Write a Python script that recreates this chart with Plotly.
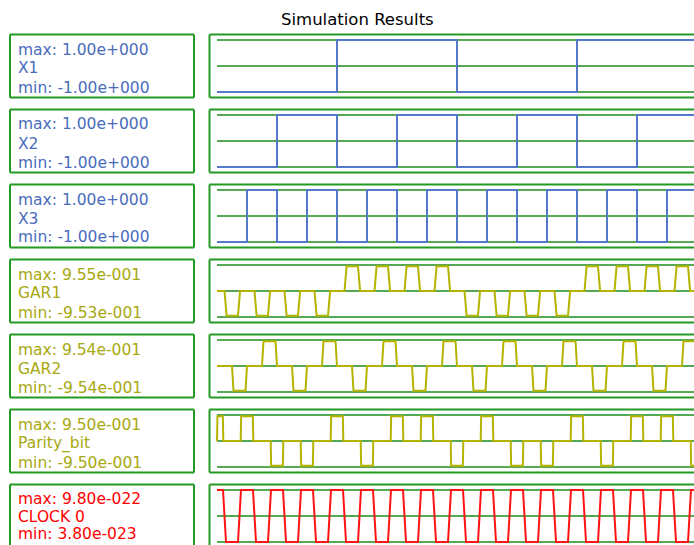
import plotly.graph_objects as go

W, H = 694, 545
TITLE = "Simulation Results"

# Signals shown, top to bottom
NAMES = ["X1", "X2", "X3", "GAR1", "GAR2", "Parity_bit", "CLOCK 0"]
MAX_LABELS = ["1.00e+000", "1.00e+000", "1.00e+000", "9.55e-001", "9.54e-001", "9.50e-001", "9.80e-022"]
MIN_LABELS = ["-1.00e+000", "-1.00e+000", "-1.00e+000", "-9.53e-001", "-9.54e-001", "-9.50e-001", "3.80e-023"]
MAX_VALUES = [1.0, 1.0, 1.0, 0.955, 0.954, 0.950, 9.80e-22]
MIN_VALUES = [-1.0, -1.0, -1.0, -0.953, -0.954, -0.950, 3.80e-23]

# Reference lines of each scope (low / high; the middle one sits half way)
GRID_LOW = [-1.0, -1.0, -1.0, -1.0, -1.0, -1.0, 3.80e-23]
GRID_HIGH = [1.0, 1.0, 1.0, 1.0, 1.0, 1.0, 9.80e-22]

# Counter bits, one level per clock step (t = 0 .. 16)
X1_LEVELS = [-1, -1, -1, -1, 1, 1, 1, 1, -1, -1, -1, -1, 1, 1, 1, 1, -1]
X2_LEVELS = [-1, -1, 1, 1, -1, -1, 1, 1, -1, -1, 1, 1, -1, -1, 1, 1, -1]
X3_LEVELS = [-1, 1, -1, 1, -1, 1, -1, 1, -1, 1, -1, 1, -1, 1, -1, 1, -1]

# Return-to-zero outputs: sign of the pulse in each clock step
GAR1_PULSES = [-1, -1, -1, -1, 1, 1, 1, 1, -1, -1, -1, -1, 1, 1, 1, 1, -1]
GAR2_PULSES = [-1, 1, -1, 1, -1, 1, -1, 1, -1, 1, -1, 1, -1, 1, -1, 1, -1]
PARITY_PULSES = [1, 1, -1, -1, 1, -1, 1, 1, -1, 1, -1, -1, 1, -1, 1, 1, -1]

# Clock state per half step (1 = high, 0 = low)
CLOCK_LEVELS = [1, 0, 1, 0, 1, 0, 1, 0, 1, 0, 1, 0, 1, 0, 1, 0, 1, 0,
                1, 0, 1, 0, 1, 0, 1, 0, 1, 0, 1, 0, 1, 0, 1, 0]

BLUE_LINE, BLUE_TEXT = "#5479c9", "#4a6cbc"
OLIVE_LINE, OLIVE_TEXT = "#b4b400", "#a8a810"
RED_LINE, RED_TEXT = "#ff1414", "#ff0000"
BOX_GREEN = "#239a23"
GRID_GREEN = "#1c8c1c"
LINE_COLORS = [BLUE_LINE] * 3 + [OLIVE_LINE] * 3 + [RED_LINE]
TEXT_COLORS = [BLUE_TEXT] * 3 + [OLIVE_TEXT] * 3 + [RED_TEXT]
FONT = "DejaVu Sans"

T_END = 17.0  # simulation stop (beyond the visible window)


def step_wave(levels, k):
    ys = [MAX_VALUES[k] if v > 0 else MIN_VALUES[k] for v in levels]
    xs = list(range(len(levels)))
    return xs + [T_END], ys + [ys[-1]]


def pulse_wave(signs, k, offset, width, edge):
    xs, ys = [0.0], [0.0]
    for i, s in enumerate(signs):
        amp = MAX_VALUES[k] if s > 0 else MIN_VALUES[k]
        t0 = i + offset
        t1 = t0 + width
        if t1 <= 0:
            continue
        t0 = max(t0, 0.0)
        xs += [t0, t0 + edge, t1 - edge, t1]
        ys += [0.0, amp, amp, 0.0]
    xs.append(T_END)
    ys.append(0.0)
    return xs, ys


def clock_wave(levels, k):
    val = [MAX_VALUES[k] if v else MIN_VALUES[k] for v in levels]
    xs, ys = [0.0], [val[0]]
    for j in range(len(val) - 1):
        c = j * 0.5 + 0.25
        xs += [c - 0.05, c + 0.05]
        ys += [val[j], val[j + 1]]
    xs.append(T_END)
    ys.append(val[-1])
    return xs, ys


waves = [
    step_wave(X1_LEVELS, 0),
    step_wave(X2_LEVELS, 1),
    step_wave(X3_LEVELS, 2),
    pulse_wave(GAR1_PULSES, 3, 0.25, 0.52, 0.07),
    pulse_wave(GAR2_PULSES, 4, 0.50, 0.50, 0.05),
    pulse_wave(PARITY_PULSES, 5, -0.21, 0.42, 0.015),
    clock_wave(CLOCK_LEVELS, 6),
]
SHAPES = ["hv"] * 3 + ["linear"] * 4

fig = go.Figure()
layout = dict(
    width=W, height=H, autosize=False,
    margin=dict(l=0, r=0, t=0, b=0),
    paper_bgcolor="white", plot_bgcolor="white",
    showlegend=False, hovermode=False,
)
shapes, annotations = [], []

PX_T0, PX_STEP = 217.0, 30.0
PLOT_LEFT, LABEL_LEFT, LABEL_RIGHT = 209.5, 10.0, 194.0
x_range = [(PLOT_LEFT - PX_T0) / PX_STEP, (W - PX_T0) / PX_STEP]


def fx(p):
    return p / W


def fy(p):
    return 1 - p / H


for k in range(7):
    top = 34.5 + 75 * k
    bottom = min(top + 63, H)
    lo, hi = GRID_LOW[k], GRID_HIGH[k]
    unit = (hi - lo) / 52.0
    y_range = [lo - (bottom - (top + 57.5)) * unit, hi + 5.5 * unit]

    sx = "" if k == 0 else str(k + 1)
    layout["xaxis" + sx] = dict(domain=[fx(PLOT_LEFT), 1.0], range=x_range,
                                visible=False, anchor="y" + sx, fixedrange=True)
    layout["yaxis" + sx] = dict(domain=[max(fy(bottom), 0.0), fy(top)], range=y_range,
                                visible=False, anchor="x" + sx, fixedrange=True)

    # scope reference lines
    for g in (lo, (lo + hi) / 2, hi):
        fig.add_trace(go.Scatter(x=[0, T_END], y=[g, g], mode="lines",
                                 line=dict(color=GRID_GREEN, width=1.6),
                                 xaxis="x" + sx, yaxis="y" + sx, hoverinfo="skip"))

    xs, ys = waves[k]
    fig.add_trace(go.Scatter(x=xs, y=ys, mode="lines",
                             line=dict(color=LINE_COLORS[k], width=2, shape=SHAPES[k]),
                             xaxis="x" + sx, yaxis="y" + sx, hoverinfo="skip"))

    # frames around the label and the scope
    box_bottom = top + 63
    edges = [
        (LABEL_LEFT, top, LABEL_LEFT, box_bottom),
        (LABEL_RIGHT, top, LABEL_RIGHT, box_bottom),
        (LABEL_LEFT, top, LABEL_RIGHT, top),
        (PLOT_LEFT, top, PLOT_LEFT, box_bottom),
        (PLOT_LEFT, top, W, top),
    ]
    if box_bottom < H:
        edges += [(LABEL_LEFT, box_bottom, LABEL_RIGHT, box_bottom),
                  (PLOT_LEFT, box_bottom, W, box_bottom)]
    for x0, y0, x1, y1 in edges:
        shapes.append(dict(type="line", xref="paper", yref="paper",
                           x0=fx(x0), x1=fx(x1), y0=fy(min(y0, H)), y1=fy(min(y1, H)),
                           line=dict(color=BOX_GREEN, width=2)))

    # the last label block sits against the page bottom, so keep it a bit tighter
    offsets = (15.0, 34.0, 53.0) if box_bottom < H else (14.5, 32.0, 49.5)
    lines = ["max: " + MAX_LABELS[k], NAMES[k], "min: " + MIN_LABELS[k]]
    for off, txt in zip(offsets, lines):
        annotations.append(dict(text=txt, xref="paper", yref="paper",
                                x=fx(16.5), y=fy(top + off), borderpad=0,
                                xanchor="left", yanchor="middle", showarrow=False,
                                font=dict(family=FONT, size=15.5, color=TEXT_COLORS[k])))

annotations.append(dict(text=TITLE, xref="paper", yref="paper",
                        x=fx(357), y=fy(19.0), xanchor="center", yanchor="middle",
                        showarrow=False, font=dict(family=FONT, size=16.5, color="black")))

layout["shapes"] = shapes
layout["annotations"] = annotations
fig.update_layout(**layout)
fig.write_html("out.html", config={"displayModeBar": False})
